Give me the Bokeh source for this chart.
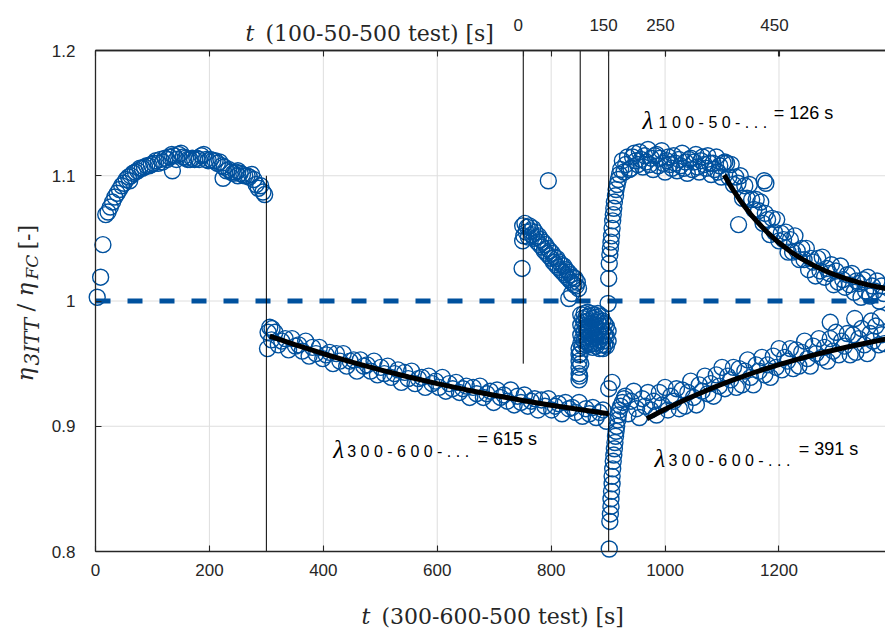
import math
from bokeh.plotting import figure
from bokeh.models import Range1d, LinearAxis, FixedTicker, Label, CustomJSTickFormatter
from bokeh.embed import file_html
from bokeh.resources import INLINE

# ---------------- data ----------------
# 300-600-500 test, first plateau (0-300 s)
a_x = [3, 9, 13, 18, 22, 26, 30, 34, 38, 42, 46, 50, 54, 58, 62, 66, 70, 74, 78, 82, 86, 90, 94, 98,
       102, 106, 110, 114, 118, 122, 126, 130, 134, 138, 142, 146, 150, 154, 158, 162, 166, 170, 174,
       178, 182, 186, 190, 194, 198, 202, 206, 210, 214, 218, 222, 226, 230, 234, 238, 242, 246, 250,
       254, 258, 262, 266, 270, 274, 278, 282, 286, 290, 294, 297, 135, 224, 60, 250]
a_y = [1.003, 1.019, 1.045, 1.069, 1.071, 1.075, 1.079, 1.083, 1.086, 1.089, 1.092, 1.094, 1.097, 1.099,
       1.100, 1.102, 1.103, 1.104, 1.106, 1.106, 1.107, 1.108, 1.108, 1.109, 1.110, 1.112, 1.110, 1.113,
       1.111, 1.114, 1.113, 1.115, 1.117, 1.116, 1.113, 1.117, 1.118, 1.115, 1.114, 1.113, 1.113, 1.114,
       1.113, 1.114, 1.113, 1.116, 1.117, 1.113, 1.112, 1.113, 1.112, 1.112, 1.110, 1.111, 1.108, 1.107,
       1.104, 1.105, 1.103, 1.102, 1.103, 1.100, 1.102, 1.101, 1.100, 1.100, 1.099, 1.101, 1.097, 1.093,
       1.090, 1.092, 1.087, 1.085, 1.104, 1.098, 1.096, 1.104]

# 300-600-500 test, decay (300-900 s)
b_x = [303, 309, 315, 321, 327, 333, 339, 345, 351, 357,
       363, 369, 375, 381, 387, 393, 399, 405, 411, 417,
       423, 429, 435, 441, 447, 453, 459, 465, 471, 477,
       483, 489, 495, 501, 507, 513, 519, 525, 531, 537,
       543, 549, 555, 561, 567, 573, 579, 585, 591, 597,
       603, 609, 615, 621, 627, 633, 639, 645, 651, 657,
       663, 669, 675, 681, 687, 693, 699, 705, 711, 717,
       723, 729, 735, 741, 747, 753, 759, 765, 771, 777,
       783, 789, 795, 801, 807, 813, 819, 825, 831, 837,
       843, 849, 855, 861, 867, 873, 879, 885, 891, 897,
       302, 306, 310]
b_y = [0.975, 0.969, 0.975, 0.965, 0.968, 0.970, 0.961, 0.970, 0.964, 0.965,
       0.960, 0.968, 0.956, 0.963, 0.958, 0.963, 0.954, 0.957, 0.959, 0.950,
       0.958, 0.952, 0.958, 0.948, 0.952, 0.953, 0.944, 0.953, 0.948, 0.949,
       0.944, 0.952, 0.941, 0.947, 0.942, 0.948, 0.939, 0.942, 0.945, 0.935,
       0.943, 0.938, 0.944, 0.934, 0.938, 0.939, 0.931, 0.940, 0.934, 0.936,
       0.931, 0.939, 0.928, 0.934, 0.930, 0.935, 0.927, 0.930, 0.932, 0.923,
       0.931, 0.926, 0.932, 0.923, 0.926, 0.928, 0.919, 0.929, 0.923, 0.925,
       0.920, 0.929, 0.917, 0.924, 0.919, 0.925, 0.916, 0.920, 0.922, 0.913,
       0.921, 0.916, 0.922, 0.913, 0.916, 0.918, 0.910, 0.919, 0.914, 0.915,
       0.911, 0.919, 0.908, 0.914, 0.910, 0.915, 0.907, 0.911, 0.913, 0.904,
       0.962, 0.979, 0.978]

# 100-50-500 test, first part (about 750-850 s)
c_x = [750, 752, 754, 756, 758, 760, 762, 764, 766, 768, 770, 772, 774, 776, 778, 780, 782, 784,
       786, 788, 790, 792, 794, 796, 798, 800, 802, 804, 806, 808, 810, 812, 814, 816, 818, 820,
       822, 824, 826, 828, 830, 832, 834, 836, 838, 840, 842, 844, 846, 848,
       749, 750, 795, 831, 836]
c_y = [1.060, 1.052, 1.062, 1.055, 1.059, 1.051, 1.060, 1.056, 1.053, 1.058, 1.050, 1.055, 1.051,
       1.047, 1.052, 1.045, 1.049, 1.043, 1.047, 1.040, 1.045, 1.038, 1.042, 1.036, 1.040, 1.034,
       1.038, 1.031, 1.035, 1.029, 1.034, 1.027, 1.031, 1.025, 1.029, 1.023, 1.028, 1.021, 1.025,
       1.019, 1.023, 1.017, 1.021, 1.015, 1.019, 1.013, 1.018, 1.012, 1.015, 1.010,
       1.026, 1.048, 1.096, 1.002, 1.006]

# cluster between 850 and 900 s
d_x = [849, 849, 849, 849, 849, 849, 851, 852, 850,
       852, 852, 852, 852, 855, 855, 855, 855, 858, 858, 858, 858, 861, 861, 861, 861,
       864, 864, 864, 864, 867, 867, 867, 867, 870, 870, 870, 870, 873, 873, 873, 873,
       876, 876, 876, 876, 879, 879, 879, 879, 882, 882, 882, 882, 885, 885, 885, 885,
       888, 888, 888, 888, 891, 891, 891, 891, 894, 894, 894, 897, 897, 897, 900, 900]
d_y = [0.962, 0.957, 0.952, 0.947, 0.942, 0.937, 0.958, 0.950, 0.940,
       0.989, 0.981, 0.973, 0.966, 0.986, 0.978, 0.970, 0.964, 0.990, 0.983, 0.975, 0.968,
       0.987, 0.979, 0.971, 0.965, 0.991, 0.984, 0.976, 0.967, 0.988, 0.980, 0.972, 0.965,
       0.990, 0.982, 0.974, 0.966, 0.986, 0.978, 0.970, 0.963, 0.989, 0.981, 0.973, 0.966,
       0.987, 0.979, 0.971, 0.964, 0.990, 0.983, 0.975, 0.967, 0.985, 0.977, 0.969, 0.962,
       0.988, 0.980, 0.972, 0.965, 0.984, 0.976, 0.968, 0.962, 0.982, 0.973, 0.965,
       0.980, 0.972, 0.964, 0.976, 0.968]

# 100-50-500 test, rise, plateau and decay (900-1387 s)
e_x = [900, 901, 902, 903, 904, 905, 906, 907, 908, 909, 910, 911, 913, 914, 916, 918, 920, 922,
       925, 928, 931, 934, 937, 940, 943, 946, 949, 952, 955, 958, 961, 964, 967, 970, 973, 976,
       979, 982, 985, 988, 991, 994, 997, 1000, 1003, 1006, 1009, 1012, 1015, 1018, 1021, 1024,
       1027, 1030, 1033, 1036, 1039, 1042, 1045, 1048, 1051, 1054, 1057, 1060, 1063, 1066, 1069,
       1072, 1075, 1078, 1081, 1084, 1087, 1090, 1093, 1096, 1099, 1102, 1105,
       1108, 1112, 1116, 1120, 1124, 1128, 1132, 1136, 1140, 1144, 1148, 1152, 1156, 1160, 1164,
       1168, 1172, 1176, 1180, 1184, 1188, 1192, 1196, 1200, 1204, 1208, 1212, 1216, 1220, 1224,
       1228, 1232, 1236, 1240, 1244, 1248, 1252, 1256, 1260, 1264, 1268, 1272, 1276, 1280, 1284,
       1288, 1292, 1296, 1300, 1304, 1308, 1312, 1316, 1320, 1324, 1328, 1332, 1336, 1340, 1344,
       1348, 1352, 1356, 1360, 1364, 1368, 1372, 1376, 1380, 1384,
       1129, 1174, 1177]
e_y = [0.998, 1.018, 1.030, 1.037, 1.042, 1.047, 1.052, 1.058, 1.064, 1.069, 1.074, 1.079, 1.084,
       1.089, 1.093, 1.097, 1.101, 1.105,
       1.112, 1.103, 1.109, 1.115, 1.105, 1.106, 1.115, 1.118, 1.112, 1.109, 1.119, 1.113, 1.107,
       1.116, 1.111, 1.121, 1.109, 1.114, 1.105, 1.116, 1.117, 1.108, 1.114, 1.120, 1.110, 1.103,
       1.112, 1.115, 1.109, 1.106, 1.116, 1.110, 1.104, 1.113, 1.108, 1.118, 1.106, 1.111, 1.102,
       1.113, 1.114, 1.105, 1.111, 1.117, 1.107, 1.103, 1.112, 1.115, 1.109, 1.106, 1.116, 1.110,
       1.101, 1.110, 1.105, 1.115, 1.103, 1.108, 1.099, 1.110, 1.111,
       1.110, 1.099, 1.109, 1.093, 1.099, 1.094, 1.100, 1.082, 1.092, 1.082, 1.093, 1.081, 1.073,
       1.081, 1.072, 1.079, 1.062, 1.070, 1.065, 1.053, 1.066, 1.055, 1.065, 1.048, 1.054, 1.049,
       1.055, 1.039, 1.049, 1.039, 1.052, 1.040, 1.033, 1.042, 1.033, 1.042, 1.025, 1.034, 1.031,
       1.020, 1.034, 1.024, 1.035, 1.019, 1.026, 1.022, 1.029, 1.013, 1.024, 1.015, 1.028, 1.017,
       1.011, 1.021, 1.013, 1.022, 1.007, 1.016, 1.014, 1.003, 1.017, 1.008, 1.019, 1.004, 1.012,
       1.008, 1.016, 1.000, 1.012, 1.006,
       1.061, 1.096, 1.094]

# 300-600-500 test, dip and recovery (900-1387 s)
f_x = [902, 903, 904, 905, 905, 906, 907, 907, 908, 909, 910, 911, 912, 913, 914, 915, 917, 918,
       920, 922, 925, 928, 901, 907,
       930, 935, 940, 945, 950, 955, 960, 965, 970, 975, 980, 985, 990, 995, 1000, 1005, 1010,
       1015, 1020, 1025, 1030, 1035, 1040, 1045, 1050, 1055, 1060, 1065, 1070, 1075, 1080, 1085,
       1090, 1095, 1100, 1105, 1110, 1115, 1120, 1125, 1130, 1135, 1140, 1145, 1150, 1155, 1160,
       1165, 1170, 1175, 1180, 1185, 1190, 1195, 1200, 1205, 1210, 1215, 1220, 1225, 1230, 1235,
       1240, 1245, 1250, 1255, 1260, 1265, 1270, 1275, 1280, 1285, 1290, 1295, 1300, 1305, 1310,
       1315, 1320, 1325, 1330, 1335, 1340, 1345, 1350, 1355, 1360, 1365, 1370, 1375, 1380, 1385,
       1290, 1333, 1362, 1378]
f_y = [0.802, 0.824, 0.830, 0.836, 0.842, 0.848, 0.854, 0.860, 0.866, 0.872, 0.877, 0.882, 0.887,
       0.892, 0.896, 0.900, 0.905, 0.909, 0.913, 0.916, 0.919, 0.922, 0.930, 0.935,
       0.924, 0.910, 0.920, 0.928, 0.914, 0.907, 0.922, 0.916, 0.927, 0.913, 0.920, 0.909, 0.927,
       0.917, 0.931, 0.913, 0.924, 0.920, 0.930, 0.914, 0.929, 0.916, 0.927, 0.936, 0.923, 0.917,
       0.933, 0.928, 0.940, 0.926, 0.934, 0.924, 0.941, 0.932, 0.947, 0.930, 0.940, 0.937, 0.947,
       0.931, 0.946, 0.933, 0.944, 0.953, 0.939, 0.933, 0.949, 0.944, 0.955, 0.941, 0.949, 0.939,
       0.956, 0.947, 0.962, 0.945, 0.955, 0.952, 0.962, 0.946, 0.961, 0.948, 0.959, 0.968, 0.954,
       0.948, 0.964, 0.958, 0.970, 0.955, 0.963, 0.952, 0.970, 0.960, 0.975, 0.957, 0.968, 0.964,
       0.974, 0.957, 0.973, 0.959, 0.970, 0.978, 0.965, 0.958, 0.974, 0.968, 0.980, 0.965, 0.973,
       0.966,
       0.983, 0.986, 0.984, 0.987]

# exponential fits (curves)
fit1_x = [306, 350, 400, 450, 500, 550, 600, 650, 700, 750, 800, 850, 901]
fit1_y = [0.972, 0.9651, 0.9579, 0.9512, 0.9450, 0.9393, 0.9340, 0.9292, 0.9247, 0.9206, 0.9168,
          0.9133, 0.9100]
fit2_x = [1104, 1112, 1120, 1130, 1140, 1150, 1160, 1180, 1200, 1220, 1240, 1260, 1280, 1300,
          1320, 1340, 1360, 1387]
fit2_y = [1.1005, 1.0942, 1.0883, 1.0815, 1.0753, 1.0694, 1.0641, 1.0546, 1.0465, 1.0395, 1.0336,
          1.0286, 1.0243, 1.0206, 1.0175, 1.0148, 1.0125, 1.0100]
fit3_x = [968, 1000, 1040, 1080, 1120, 1160, 1200, 1240, 1280, 1320, 1360, 1387]
fit3_y = [0.906, 0.9136, 0.9222, 0.9300, 0.9371, 0.9435, 0.9492, 0.9544, 0.9591, 0.9633, 0.9671,
          0.9695]

# reference level and segment markers
ref_x = [0, 1387]
ref_y = [1.0, 1.0]
marker_x = [300, 751, 851, 901]
marker_y0 = [0.8, 0.95, 0.95, 0.8]
marker_y1 = [1.1, 1.2, 1.2, 1.2]

# axes
X_MIN, X_MAX = 0, 1387
Y_MIN, Y_MAX = 0.8, 1.2
x_ticks = [0, 200, 400, 600, 800, 1000, 1200]
y_ticks = [0.8, 0.9, 1.0, 1.1, 1.2]
top_offset = 751
top_ticks = [0, 150, 250, 450]

# ---------------- layout (pixels) ----------------
W, H = 885, 630
PL, PT, PB = 95, 50, 79          # plot box: left, top, bottom margins (box runs to the right edge)
sx_per = (W - PL) / (X_MAX - X_MIN)
sy_per = (H - PT - PB) / (Y_MAX - Y_MIN)
xr = Range1d(X_MIN - PL / sx_per, X_MAX)
yr = Range1d(Y_MIN - PB / sy_per, Y_MAX + PT / sy_per)
TOP_LABEL_SHIFT = 9              # top tick labels sit a few pixels left of their ticks

BLUE = "#00519E"
AX = "#262626"
GRID = "#dedede"

p = figure(width=W, height=H, output_backend="svg", toolbar_location=None,
           x_range=xr, y_range=yr, min_border=0,
           min_border_left=0, min_border_right=0, min_border_top=0, min_border_bottom=0)
p.outline_line_color = None
p.background_fill_color = "white"
p.border_fill_color = "white"
p.xgrid.visible = False
p.ygrid.visible = False

bottom_axis = p.below[0]
left_axis = p.left[0]
bottom_axis.fixed_location = Y_MIN
bottom_axis.bounds = (X_MIN, X_MAX)
left_axis.fixed_location = X_MIN
left_axis.bounds = (Y_MIN, Y_MAX)

p.extra_x_ranges = {
    "top": Range1d(xr.start - top_offset, xr.end - top_offset),
    "toplab": Range1d(xr.start - top_offset + TOP_LABEL_SHIFT, xr.end - top_offset + TOP_LABEL_SHIFT),
}
# tick marks of the top (100-50-500) scale
top_ticks_axis = LinearAxis(x_range_name="top", ticker=FixedTicker(ticks=top_ticks),
                            fixed_location=Y_MAX, bounds=(X_MIN - top_offset, X_MAX - top_offset),
                            formatter=CustomJSTickFormatter(code="return ''"))
p.add_layout(top_ticks_axis, "above")
# labels of the top scale
top_axis = LinearAxis(x_range_name="toplab", ticker=FixedTicker(ticks=top_ticks),
                      fixed_location=Y_MAX)
p.add_layout(top_axis, "above")
# mirrored ticks of the bottom axis along the top edge
top_mirror = LinearAxis(ticker=FixedTicker(ticks=x_ticks), fixed_location=Y_MAX,
                        bounds=(X_MIN, X_MAX),
                        formatter=CustomJSTickFormatter(code="return ''"))
p.add_layout(top_mirror, "above")

for ax in [bottom_axis, left_axis, top_ticks_axis, top_axis, top_mirror]:
    ax.axis_line_color = AX
    ax.axis_line_width = 1.3
    ax.major_tick_line_color = AX
    ax.major_tick_line_width = 1.1
    ax.major_tick_in = 6
    ax.major_tick_out = 0
    ax.minor_tick_line_color = None
    ax.major_label_text_font = "Liberation Sans"
    ax.major_label_text_font_size = "17px"
    ax.major_label_text_color = AX
top_axis.axis_line_color = None
top_axis.major_tick_line_color = None

bottom_axis.ticker = FixedTicker(ticks=x_ticks)
bottom_axis.major_label_standoff = 12
left_axis.ticker = FixedTicker(ticks=y_ticks)
left_axis.major_label_standoff = 20
left_axis.formatter = CustomJSTickFormatter(
    code="return Math.abs(tick-1) < 1e-9 ? '1' : tick.toFixed(1)")
top_axis.major_label_standoff = 20

# grid lines at the tick positions, limited to the plot box
gx = x_ticks[1:]
p.segment(x0=gx, y0=[Y_MIN] * len(gx), x1=gx, y1=[Y_MAX] * len(gx), line_color=GRID, line_width=1)
gy = y_ticks[1:-1]
p.segment(x0=[X_MIN] * len(gy), y0=gy, x1=[X_MAX] * len(gy), y1=gy, line_color=GRID, line_width=1)

for xs, ys in [(a_x, a_y), (b_x, b_y), (c_x, c_y), (d_x, d_y), (e_x, e_y), (f_x, f_y)]:
    p.scatter(xs, ys, marker="circle", size=16, fill_color=None, line_color=BLUE, line_width=1.4)

p.line(ref_x, ref_y, line_color=BLUE, line_width=5, line_dash="15 17")
p.segment(x0=marker_x, y0=marker_y0, x1=marker_x, y1=marker_y1, line_color="black", line_width=1)
for fx, fy in [(fit1_x, fit1_y), (fit2_x, fit2_y), (fit3_x, fit3_y)]:
    p.line(fx, fy, line_color="black", line_width=5)


def lab(x, y, text, size, font="Liberation Sans", style="normal", units="data", angle=0.0,
        color="black"):
    p.add_layout(Label(x=x, y=y, x_units=units, y_units=units, text=text, text_font=font,
                       text_font_size=f"{size}px", text_font_style=style, text_color=color,
                       angle=angle, text_align="left", text_baseline="alphabetic"))


# annotations (data units)
LAM = "Liberation Serif"
lab(960.5, 1.144, "λ", 25, font=LAM, style="italic")
lab(988.6, 1.1424, "1 0 0 - 5 0 - . . .", 16)
lab(1190.7, 1.1504, "= 126 s", 18)
lab(417.4, 0.8818, "λ", 25, font=LAM, style="italic")
lab(442.0, 0.8802, "3 0 0 - 6 0 0 - . . .", 16)
lab(670.5, 0.8898, "= 615 s", 18)
lab(981.5, 0.8739, "λ", 25, font=LAM, style="italic")
lab(1006.0, 0.8723, "3 0 0 - 6 0 0 - . . .", 16)
lab(1234.6, 0.8818, "= 391 s", 18)

# axis titles (screen units, origin at the bottom-left of the canvas)
SERIF = "DejaVu Serif"
lab(245, H - 33, "t", 22, font=SERIF, style="italic", units="screen", color=AX)
lab(265, H - 33, "(100-50-500 test) [s]", 22, font=SERIF, units="screen", color=AX)
lab(361, H - 616, "t", 22, font=SERIF, style="italic", units="screen", color=AX)
lab(381, H - 616, "(300-600-500 test) [s]", 22, font=SERIF, units="screen", color=AX)

R = math.pi / 2
lab(24, H - 381, "η", 23, font=SERIF, style="italic", units="screen", angle=R, color=AX)
lab(31, H - 365, "3ITT", 20, font=SERIF, style="italic", units="screen", angle=R, color=AX)
lab(24, H - 311, "/", 23, font=SERIF, units="screen", angle=R, color=AX)
lab(24, H - 296, "η", 23, font=SERIF, style="italic", units="screen", angle=R, color=AX)
lab(31, H - 279, "FC", 17, font=SERIF, style="italic", units="screen", angle=R, color=AX)
lab(27, H - 249, "[-]", 22, font=SERIF, units="screen", angle=R, color=AX)

open("out.html", "w").write(file_html(p, INLINE))
